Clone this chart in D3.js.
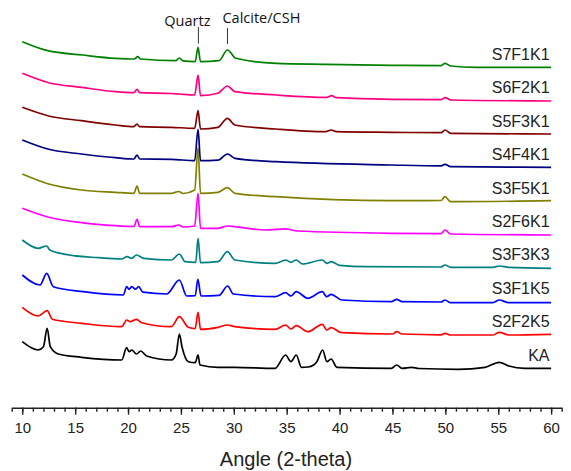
<!DOCTYPE html>
<html lang="en">
<head>
<meta charset="UTF-8">
<title>XRD patterns</title>
<script src="https://d3js.org/d3.v7.min.js"></script>
<style>
  body { margin: 0; background: #fff; }
  .label { font-family: "Liberation Sans", Arial, sans-serif; font-size: 16px; fill: #222; text-anchor: end; }
  .note { font-family: "Open Sans", "Noto Sans", sans-serif; font-size: 14.5px; fill: #111; }
  .axis text { font-family: "Liberation Sans", Arial, sans-serif; font-size: 15px; fill: #222; }
  .axis path, .axis line { stroke: #222; stroke-width: 1.4; }
  .title { font-family: "Liberation Sans", Arial, sans-serif; font-size: 20px; fill: #222; text-anchor: middle; }
</style>
</head>
<body>
<svg id="chart" width="571" height="471"></svg>
<script>
// [2-theta, intensity a.u.], bottom pattern first
const ka = [[10,36.3],[11.5,28],[12,31.3],[12.35,49.7],[12.65,31.3],[13.4,24],[15.6,20.7],[19.4,18],[19.87,30.3],[20.1,26.3],[20.35,28],[20.8,24],[21.2,27],[21.75,22],[24.1,18],[24.55,24],[24.85,44],[25.1,31.3],[25.7,16.3],[26.35,15.3],[26.62,23],[26.8,13],[28.5,10.7],[30.1,10.7],[33.9,9.7],[34.9,23],[35.4,16.3],[35.9,23],[36.4,10.7],[37,11],[37.55,13],[37.85,16.3],[38.4,28],[38.8,16.3],[39.2,19],[39.75,10.7],[44.9,9.7],[45.4,13],[45.9,9.7],[46.8,10.7],[47.5,9.5],[51.2,8.7],[53.75,10.7],[55.1,15.7],[56,12],[57.5,9.7],[60,9.7]];
const s2f2k5 = [[10,37.3],[11.5,28.6],[12.35,33.9],[12.85,25.3],[15.6,21.3],[19.4,17.9],[19.87,24.6],[20.2,22.9],[20.8,25.3],[21.3,21.9],[24.1,17.9],[24.85,27.9],[25.7,17.3],[26.35,16],[26.62,32.3],[26.85,15.3],[28.5,17.3],[29.4,19.6],[30.1,17.9],[33.9,15.3],[34.9,19.6],[35.4,15.6],[35.9,18.9],[37,12.9],[38.37,20.3],[38.78,14.6],[39.2,16.9],[40.2,11.9],[45,10.6],[45.4,12.9],[45.9,10.6],[49.6,9.8],[49.97,11.3],[50.5,9.6],[54.5,9.6],[55.1,12.3],[56,9.6],[60,10.3]];
const s3f1k5 = [[10,36.2],[11.68,26.2],[12.31,37.9],[12.93,24.5],[15.77,19.5],[19.55,16.2],[19.87,24.5],[20.1,22],[20.35,24.5],[20.7,22],[21,24.5],[21.4,19],[23.65,17.2],[24.85,31.2],[25.55,15.2],[26.35,15.5],[26.6,31.9],[26.9,15.2],[28.6,15.8],[29.42,25.2],[29.95,17.2],[33.9,14.5],[34.9,18.5],[35.4,15.2],[35.9,19.5],[37,12.9],[38.37,19.5],[38.78,14.5],[39.2,16.9],[40.2,11.2],[44.9,9.5],[45.4,11.9],[45.9,9.5],[49.6,9.2],[49.97,11.2],[50.5,8.5],[54.5,8.6],[55.1,11.2],[56,8.5],[60,8.5]];
const s3f3k3 = [[10,37.8],[11.5,29.5],[12.3,31.8],[12.6,27.8],[14.1,23.5],[17.2,20.1],[19.4,18.8],[19.9,21.1],[20.35,19.5],[20.8,22.8],[21.5,19.5],[24.1,17.8],[24.85,23.8],[25.4,16.1],[26.4,15.5],[26.62,39.5],[26.85,15.1],[28.5,16.1],[29.4,26.1],[30.1,17.8],[33.9,14.5],[34.9,17.8],[35.4,15.5],[35.9,17.8],[36.5,13.8],[38.37,17.8],[38.8,14.5],[39.2,16.1],[40,12.5],[42.5,11.1],[49.6,10.8],[49.97,12.8],[50.5,10.5],[54.5,10.5],[55.1,11.8],[56,10.5],[60,9.5]];
const s2f6k1 = [[10,36.1],[12.5,27.1],[15.6,21.7],[18.8,18.7],[20.55,17.9],[20.85,25.1],[21.1,17.7],[24.1,17.7],[24.8,19.4],[25.2,17.4],[26.3,18.4],[26.62,51.1],[26.85,16.1],[28.5,16.1],[29.4,18.4],[30.1,17.7],[33,14.4],[34.9,15.5],[36,13.4],[44.9,11.1],[49.6,10.8],[49.97,14.4],[50.5,10.4],[60,9.4]];
const s3f5k1 = [[10,37],[12.5,27],[15.6,21],[18.8,18.7],[20.55,17.7],[20.85,25],[21.1,17.7],[24.1,17.7],[24.8,19.5],[25.2,17.5],[26.3,21],[26.62,63],[26.85,17.7],[28.5,18.7],[29.4,23.3],[30.1,17.7],[34,14.3],[44.9,10.3],[49.6,10.5],[49.97,14.3],[50.5,9.3],[60,10.3]];
const s4f4k1 = [[10,37.6],[12.5,28.3],[15.6,23.6],[18.8,19.9],[20.55,18.6],[20.85,22.6],[21.1,18.6],[24.1,18.3],[26.3,16.9],[26.62,48.3],[26.85,16.9],[28.5,17.5],[29.4,23.6],[30.1,19.3],[34,15.9],[44.9,12.6],[49.6,11.8],[49.97,13.3],[50.5,10.9],[60,10.3]];
const s5f3k1 = [[10,36.9],[12.5,28.2],[15.6,23.5],[18.8,19.2],[20.55,17.5],[20.85,20.2],[21.1,17.5],[24.1,16.9],[26.3,15.9],[26.62,33.5],[26.85,15.2],[28.5,16.9],[29.4,25.9],[30.1,19.2],[34,15.2],[38.7,12.5],[39.2,14.2],[39.7,12.5],[44.9,11.9],[49.6,11.5],[49.97,14.2],[50.5,10.9],[60,10.2]];
const s6f2k1 = [[10,37.5],[12.5,28.1],[15.6,23.5],[18.8,19.1],[20.55,18.1],[20.85,21.5],[21.1,18.1],[24.1,17.3],[24.8,16.8],[26.3,15.8],[26.62,35.8],[26.85,15.1],[28.5,17.5],[29.4,24.8],[30.1,19.1],[34,15.8],[38.8,13.5],[39.25,15.1],[39.7,13.1],[44.9,11.5],[49.6,11.2],[49.97,13.1],[50.5,10.8],[60,9.8]];
const s7f1k1 = [[10,35.7],[12.4,26.7],[15.7,22.4],[18.8,19.1],[20.6,18.4],[20.9,20.7],[21.2,18.4],[24.5,16.7],[24.85,19.4],[25.2,16.5],[26.35,15.7],[26.62,30.1],[26.85,15.7],[28.6,16.7],[29.4,27.4],[30.2,19.1],[34,14.1],[38.7,13.1],[44.9,12.1],[49.6,11.8],[49.97,14.1],[50.5,11.4],[52.9,10.1],[60,10.1]];

const seriesNames = ["KA", "S2F2K5", "S3F1K5", "S3F3K3", "S2F6K1", "S3F5K1", "S4F4K1", "S5F3K1", "S6F2K1", "S7F1K1"];
const seriesData = [ka, s2f2k5, s3f1k5, s3f3k3, s2f6k1, s3f5k1, s4f4k1, s5f3k1, s6f2k1, s7f1k1];
const seriesColors = ["#000000", "#ff0000", "#0000ff", "#008080", "#ff00ff", "#808000", "#000080", "#800000", "#ff0080", "#008000"];

const majorTicks = [10, 15, 20, 25, 30, 35, 40, 45, 50, 55, 60];
const phases = [{ name: "Quartz", at: 26.65 }, { name: "Calcite/CSH", at: 29.4 }];

const step = 33.4; // vertical offset between patterns (a.u.)

const svg = d3.select("#chart");
const x = d3.scaleLinear().domain([9, 61]).range([11.7, 561.7]);
const y = d3.scaleLinear().domain([0, 370]).range([378, 8]);

const line = d3.line()
  .x(d => x(d[0]))
  .y(d => y(d[1]))
  .curve(d3.curveMonotoneX);

seriesData.forEach((data, i) => {
  const off = i * step;
  svg.append("path")
    .datum(data.map(d => [d[0], d[1] + off]))
    .attr("fill", "none")
    .attr("stroke", seriesColors[i])
    .attr("stroke-width", 1.7)
    .attr("stroke-linejoin", "round")
    .attr("d", line);

  svg.append("text")
    .attr("class", "label")
    .attr("x", x(59.85))
    .attr("y", y(off + 17.5))
    .text(seriesNames[i]);
});

// phase markers
phases.forEach((p, i) => {
  svg.append("line")
    .attr("x1", x(p.at)).attr("x2", x(p.at))
    .attr("y1", i ? 28 : 27).attr("y2", i ? 44 : 43.5)
    .attr("stroke", "#333").attr("stroke-width", 1);
});
svg.append("text").attr("class", "note")
  .attr("x", x(phases[0].at) - 11).attr("y", 25.5)
  .attr("text-anchor", "middle").text(phases[0].name);
svg.append("text").attr("class", "note")
  .attr("x", x(phases[1].at) - 5).attr("y", 22.5)
  .attr("text-anchor", "start").text(phases[1].name);

// x axis
const axisY = 407.7;
svg.append("g")
  .attr("class", "axis")
  .attr("transform", `translate(0,${axisY})`)
  .call(d3.axisBottom(x).tickValues(d3.range(9, 62)).tickSize(4).tickSizeOuter(0).tickFormat(""));
svg.append("g")
  .attr("class", "axis")
  .attr("transform", `translate(0,${axisY})`)
  .call(d3.axisBottom(x).tickValues(majorTicks).tickSize(7).tickPadding(7.5).tickSizeOuter(0).tickFormat(d3.format("d")))
  .call(g => g.select(".domain").remove());

svg.append("text")
  .attr("class", "title")
  .attr("x", 286)
  .attr("y", 466)
  .text("Angle (2-theta)");
</script>
</body>
</html>
